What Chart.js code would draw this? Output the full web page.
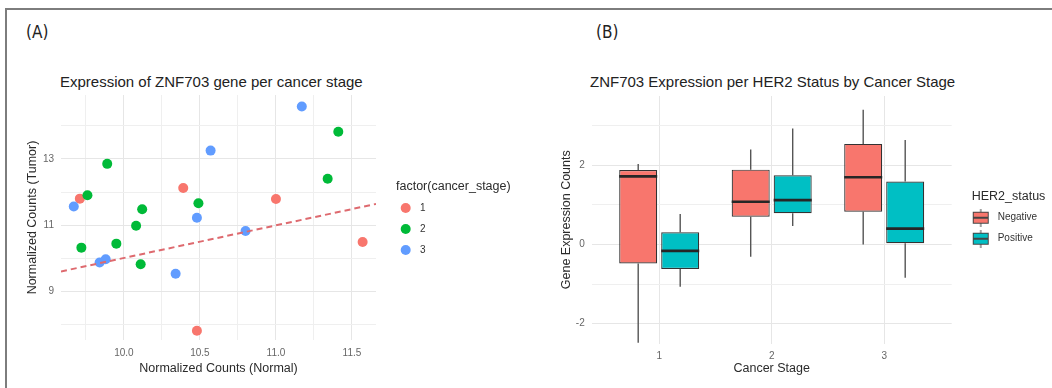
<!DOCTYPE html>
<html>
<head>
<meta charset="utf-8">
<script src="https://cdn.jsdelivr.net/npm/chart.js@4.4.1/dist/chart.umd.min.js"></script>
<style>
  html, body { margin: 0; padding: 0; background: #fff; }
  #page { position: relative; width: 1052px; height: 388px; overflow: hidden; background: #fff; font-family: 'Liberation Sans', Arial, sans-serif; }
  #frame { position: absolute; left: 5px; top: 8px; right: -4px; bottom: -4px; border-top: 2px solid #7d7d7d; border-left: 2px solid #7d7d7d; }
  .tag { position: absolute; font-family: 'Liberation Sans Narrow', 'DejaVu Sans Condensed', sans-serif; font-size: 17px; line-height: 1; color: #222; }
  .ttl { position: absolute; font-size: 15px; line-height: 1; color: #222; white-space: nowrap; }
  canvas { position: absolute; top: 0; }
</style>
</head>
<body>
<div id="page">
  <div id="frame"></div>
  <div class="tag" style="left:26px; top:23.5px">(A)</div>
  <div class="tag" style="left:596px; top:23.5px">(B)</div>
  <div class="ttl" style="left:60px; top:74.4px">Expression of ZNF703 gene per cancer stage</div>
  <div class="ttl" style="left:590px; top:74.4px">ZNF703 Expression per HER2 Status by Cancer Stage</div>
  <canvas id="chartA" width="540" height="388" style="left:0"></canvas>
  <canvas id="chartB" width="512" height="388" style="left:540px"></canvas>
</div>
<script>
// (A) normalized counts, one pair of arrays per cancer stage
const stageNames = ['1', '2', '3'];
const stage1Normal = [10.39, 9.71, 11.00, 10.48, 11.57];
const stage1Tumor  = [12.12, 11.80, 11.79, 7.81, 10.49];
const stage2Normal = [11.41, 9.89, 11.34, 9.76, 10.12, 10.49, 10.08, 9.95, 9.72, 10.11];
const stage2Tumor  = [13.82, 12.85, 12.40, 11.90, 11.48, 11.66, 10.98, 10.44, 10.32, 9.82];
const stage3Normal = [11.17, 10.57, 9.67, 10.48, 10.80, 9.84, 9.88, 10.34];
const stage3Tumor  = [14.58, 13.25, 11.56, 11.22, 10.82, 9.87, 9.97, 9.53];
const trendNormal = [9.586, 11.658];
const trendTumor  = [9.60, 11.64];
const normalTicks = [9.75, 10, 10.25, 10.5, 10.75, 11, 11.25, 11.5];
const tumorTicks  = [8, 9, 10, 11, 12, 13, 14];

// (B) box statistics per cancer stage and HER2 status
const cancerStages = [1, 2, 3];
const her2Groups = ['Negative', 'Positive'];
const negLower  = [-2.48, -0.31, 0.00];
const negQ1     = [-0.48, 0.70, 0.83];
const negMedian = [1.72, 1.08, 1.70];
const negQ3     = [1.88, 1.89, 2.54];
const negUpper  = [2.03, 2.40, 3.40];
const posLower  = [-1.07, 0.47, -0.84];
const posQ1     = [-0.62, 0.79, 0.03];
const posMedian = [-0.16, 1.12, 0.40];
const posQ3     = [0.31, 1.75, 1.59];
const posUpper  = [0.77, 2.93, 2.64];
const countTicks = [-2, -1, 0, 1, 2, 3];

const stageColors = ['#F8766D', '#00BA38', '#619CFF'];
const her2Colors = ['#F8766D', '#00BFC4'];
const gridMajor = '#e6e6e6';
const gridMinor = '#efefef';

Chart.defaults.font.family = "'Liberation Sans', Arial, sans-serif";

// moves the legend to a fixed spot after layout (wide enough so the title is not clipped)
const placeLegend = {
  id: 'placeLegend',
  afterLayout(chart, args, opts) {
    const lg = chart.legend;
    if (!lg) return;
    const w = Math.max(lg.width, opts.width || 0), h = lg.height;
    lg.left = opts.left; lg.right = opts.left + w; lg.width = w;
    lg.top = opts.top; lg.bottom = opts.top + h;
  }
};

function dotKey(color) {
  const c = document.createElement('canvas');
  c.width = 22; c.height = 12;
  const g = c.getContext('2d');
  g.fillStyle = color;
  g.beginPath();
  g.arc(5.7, 6, 5, 0, Math.PI * 2);
  g.fill();
  return c;
}

function boxKey(color) {
  const c = document.createElement('canvas');
  c.width = 32; c.height = 18;
  const g = c.getContext('2d');
  g.strokeStyle = '#444';
  g.lineWidth = 1;
  g.beginPath(); g.moveTo(9, 0); g.lineTo(9, 18); g.stroke();
  g.fillStyle = color;
  g.fillRect(1.5, 3.5, 15, 11);
  g.strokeRect(1.5, 3.5, 15, 11);
  g.lineWidth = 2;
  g.beginPath(); g.moveTo(1.5, 9); g.lineTo(16.5, 9); g.stroke();
  return c;
}

function toPoints(xs, ys) {
  return xs.map((x, i) => ({ x: x, y: ys[i] }));
}

function axisTitle(text, pad) {
  return { display: true, text: text, color: '#2b2b2b', font: { size: 12.5 }, padding: pad };
}

const tickFont = { color: '#666', font: { size: 10 }, autoSkip: false, maxRotation: 0, padding: 7 };

// ---- (A) scatter ----
const stageKeys = stageColors.map(dotKey);
const stageData = [
  toPoints(stage1Normal, stage1Tumor),
  toPoints(stage2Normal, stage2Tumor),
  toPoints(stage3Normal, stage3Tumor)
];

new Chart(document.getElementById('chartA'), {
  type: 'scatter',
  data: {
    datasets: stageData.map((pts, i) => ({
      label: stageNames[i],
      data: pts,
      backgroundColor: stageColors[i],
      borderWidth: 0,
      pointRadius: 5,
      order: 3 - i
    })).concat([{
      type: 'line',
      label: 'trend',
      data: toPoints(trendNormal, trendTumor),
      borderColor: '#de6a6f',
      borderWidth: 2,
      borderDash: [6, 4],
      pointRadius: 0,
      showLine: true,
      fill: false,
      order: 0
    }])
  },
  options: {
    responsive: false,
    animation: false,
    events: [],
    layout: { padding: { left: 20, top: 95, right: 164, bottom: 10.2 } },
    scales: {
      x: {
        type: 'linear',
        min: 9.586,
        max: 11.658,
        afterBuildTicks: axis => { axis.ticks = normalTicks.map(v => ({ value: v })); },
        afterFit: axis => { axis.height = 37.8; },
        grid: {
          drawTicks: false,
          color: c => (Number.isInteger(c.tick.value * 2) ? gridMajor : gridMinor)
        },
        border: { display: false },
        ticks: Object.assign({}, tickFont, {
          callback: v => (Number.isInteger(v * 2) ? v.toFixed(1) : '')
        }),
        title: axisTitle('Normalized Counts (Normal)', { top: 0, bottom: 2 })
      },
      y: {
        type: 'linear',
        min: 7.53,
        max: 14.93,
        afterBuildTicks: axis => { axis.ticks = tumorTicks.map(v => ({ value: v })); },
        afterFit: axis => { axis.width = 41; },
        grid: {
          drawTicks: false,
          color: c => (c.tick.value % 2 === 1 ? gridMajor : gridMinor)
        },
        border: { display: false },
        ticks: Object.assign({}, tickFont, {
          callback: v => (v % 2 === 1 ? String(v) : '')
        }),
        title: axisTitle('Normalized Counts (Tumor)', { top: 5.5, bottom: 0 })
      }
    },
    plugins: {
      tooltip: { enabled: false },
      placeLegend: { left: 396, top: 180.75, width: 140 },
      legend: {
        position: 'chartArea',
        align: 'start',
        title: {
          display: true,
          text: 'factor(cancer_stage)',
          color: '#2b2b2b',
          font: { size: 12.5, lineHeight: 0.9 },
          padding: 0,
          position: 'start'
        },
        labels: {
          usePointStyle: true,
          pointStyleWidth: 8,
          padding: 11,
          color: '#333',
          font: { size: 10 },
          sort: (a, b) => a.datasetIndex - b.datasetIndex,
          filter: item => item.datasetIndex < 3,
          generateLabels: chart => Chart.defaults.plugins.legend.labels.generateLabels(chart)
            .map(item => Object.assign(item, { pointStyle: stageKeys[item.datasetIndex] || 'circle' }))
        }
      }
    }
  },
  plugins: [placeLegend]
});

// ---- (B) box plot ----
const boxStats = [
  { low: negLower, q1: negQ1, med: negMedian, q3: negQ3, high: negUpper },
  { low: posLower, q1: posQ1, med: posMedian, q3: posQ3, high: posUpper }
];
const her2Keys = her2Colors.map(boxKey);

const boxParts = {
  id: 'boxParts',
  beforeDatasetsDraw(chart) {
    const { ctx } = chart;
    const y = chart.scales.y;
    ctx.save();
    ctx.strokeStyle = '#555';
    ctx.lineWidth = 1.4;
    boxStats.forEach((st, d) => {
      chart.getDatasetMeta(d).data.forEach((bar, i) => {
        ctx.beginPath();
        ctx.moveTo(bar.x, y.getPixelForValue(st.low[i]));
        ctx.lineTo(bar.x, y.getPixelForValue(st.q1[i]));
        ctx.moveTo(bar.x, y.getPixelForValue(st.q3[i]));
        ctx.lineTo(bar.x, y.getPixelForValue(st.high[i]));
        ctx.stroke();
      });
    });
    ctx.restore();
  },
  afterDatasetsDraw(chart) {
    const { ctx } = chart;
    const y = chart.scales.y;
    ctx.save();
    ctx.strokeStyle = '#262626';
    ctx.lineWidth = 2.6;
    boxStats.forEach((st, d) => {
      chart.getDatasetMeta(d).data.forEach((bar, i) => {
        const py = y.getPixelForValue(st.med[i]);
        ctx.beginPath();
        ctx.moveTo(bar.x - bar.width / 2, py);
        ctx.lineTo(bar.x + bar.width / 2, py);
        ctx.stroke();
      });
    });
    ctx.restore();
  }
};

new Chart(document.getElementById('chartB'), {
  type: 'bar',
  data: {
    datasets: boxStats.map((st, d) => ({
      label: her2Groups[d],
      data: cancerStages.map((s, i) => ({ x: s, y: [st.q1[i], st.q3[i]] })),
      backgroundColor: her2Colors[d],
      borderColor: '#333',
      borderWidth: 1.2,
      borderSkipped: false,
      categoryPercentage: 0.7467,
      barPercentage: 0.905
    }))
  },
  options: {
    responsive: false,
    animation: false,
    events: [],
    layout: { padding: { left: 13.7, top: 96, right: 100.3, bottom: 10.2 } },
    scales: {
      x: {
        type: 'linear',
        min: 0.4,
        max: 3.6,
        offset: false,
        afterBuildTicks: axis => { axis.ticks = cancerStages.map(v => ({ value: v })); },
        afterFit: axis => { axis.height = 34.3; },
        grid: { drawTicks: false, offset: false, color: gridMajor },
        border: { display: false },
        ticks: Object.assign({}, tickFont, { callback: v => String(v) }),
        title: axisTitle('Cancer Stage', { top: 0, bottom: 2 })
      },
      y: {
        type: 'linear',
        min: -2.5,
        max: 3.75,
        stacked: false,
        afterBuildTicks: axis => { axis.ticks = countTicks.map(v => ({ value: v })); },
        afterFit: axis => { axis.width = 38; },
        grid: {
          drawTicks: false,
          color: c => (c.tick.value % 2 === 0 ? gridMajor : gridMinor)
        },
        border: { display: false },
        ticks: Object.assign({}, tickFont, {
          callback: v => (v % 2 === 0 ? String(v) : '')
        }),
        title: axisTitle('Gene Expression Counts', { top: 5.5, bottom: 0 })
      }
    },
    plugins: {
      tooltip: { enabled: false },
      placeLegend: { left: 431.7, top: 190.45, width: 80 },
      legend: {
        position: 'chartArea',
        align: 'start',
        title: {
          display: true,
          text: 'HER2_status',
          color: '#2b2b2b',
          font: { size: 12.5, lineHeight: 0.9 },
          padding: 0,
          position: 'start'
        },
        labels: {
          usePointStyle: true,
          pointStyleWidth: 10,
          padding: 11,
          color: '#333',
          font: { size: 10 },
          generateLabels: chart => Chart.defaults.plugins.legend.labels.generateLabels(chart)
            .map(item => Object.assign(item, { pointStyle: her2Keys[item.datasetIndex] }))
        }
      }
    }
  },
  plugins: [placeLegend, boxParts]
});
</script>
</body>
</html>
